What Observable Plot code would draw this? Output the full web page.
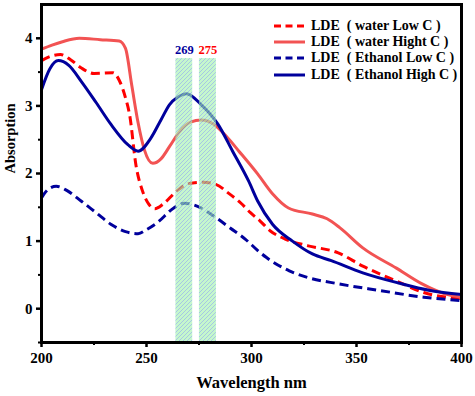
<!DOCTYPE html>
<html><head><meta charset="utf-8">
<script src="https://cdn.jsdelivr.net/npm/d3@7"></script>
<script src="https://cdn.jsdelivr.net/npm/@observablehq/plot@0.6"></script>
<style>
body{margin:0;background:#fff;}
#wrap{position:relative;width:475px;height:396px;}
#legend{position:absolute;left:274px;top:17.5px;font:bold 14px "Liberation Serif",serif;color:#000;}
.row{display:flex;align-items:center;height:16.3px;white-space:pre;}
.row svg{margin-right:6px;}
</style></head><body><div id="wrap"></div>
<script>
// ---- data ----
const seriesNames = ["LDE  ( water Low C )", "LDE  ( water Hight C )", "LDE  ( Ethanol Low C )", "LDE  ( Ethanol High C )"];

const wlWaterLow = [200,204,209,214,219,225,234,237,240,242,245,248,251,254,258,264,270,277,283,289,295,299.5,304,309,316,327,341,353,369,382,400];
const abWaterLow = [3.67,3.73,3.76,3.68,3.56,3.48,3.49,3.38,3.12,2.86,2.12,1.75,1.55,1.48,1.55,1.73,1.85,1.87,1.84,1.71,1.56,1.42,1.30,1.15,1.03,0.93,0.83,0.63,0.41,0.24,0.15];

const wlWaterHigh = [200,205,210,218,228,237,240,243,246,249,253,257,261,266,271,276,282,288,294,303,310,317.6,329,336,342,353,369,381,392,400];
const abWaterHigh = [3.84,3.90,3.95,4.0,3.98,3.96,3.85,3.3,2.75,2.35,2.15,2.22,2.40,2.63,2.76,2.79,2.73,2.55,2.33,1.99,1.70,1.49,1.40,1.33,1.2,0.9,0.6,0.37,0.22,0.17];

const wlEthLow = [200,203,207,212,219,226,233,240,246,250,255,263,268,276,282,290,297,303,307,318,327,341,361,382,400];
const abEthLow = [1.64,1.76,1.81,1.75,1.59,1.42,1.25,1.14,1.11,1.17,1.27,1.49,1.56,1.49,1.37,1.19,1.03,0.86,0.76,0.56,0.46,0.37,0.27,0.17,0.12];

const wlEthHigh = [200,204,208,213,219,226,233,241,246,252,257,261,265,269,276,284,291,298.6,303,310,319.5,329,338,353,370,385,400];
const abEthHigh = [3.24,3.55,3.67,3.6,3.36,3.05,2.73,2.43,2.33,2.52,2.8,3.02,3.13,3.18,3.02,2.73,2.33,1.89,1.59,1.25,1.0,0.81,0.71,0.53,0.38,0.27,0.21];

const bandLabels = ["269", "275"];
const bandStart = [264, 275.2];
const bandEnd = [272, 283.3];
const bandTop = 3.7;
const bandBottom = -0.5;

const xTicks = [200, 250, 300, 350, 400];
const xMinor = [225, 275, 325, 375];
const yTicks = [0, 1, 2, 3, 4];
const yMinor = [-0.5, 0.5, 1.5, 2.5, 3.5];

// ---- styles ----
const colors = ["#ff0000", "#f25353", "#00009c", "#00009c"];
const dashes = ["9,5", null, "9,5", null];
const labelColors = ["#00009c", "#ff0000"];

const toRows = (wl, ab) => wl.map((w, i) => ({w, a: ab[i]}));
const series = [toRows(wlWaterLow, abWaterLow), toRows(wlWaterHigh, abWaterHigh), toRows(wlEthLow, abEthLow), toRows(wlEthHigh, abEthHigh)];
const bands = bandLabels.map((l, i) => ({label: l, x1: bandStart[i], x2: bandEnd[i], color: labelColors[i]}));

const defs = () => {
  const d = d3.create("svg:defs");
  const p = d.append("pattern").attr("id", "hatch").attr("patternUnits", "userSpaceOnUse")
    .attr("width", 4).attr("height", 4);
  p.append("rect").attr("width", 4).attr("height", 4).attr("fill", "#a6f3b2");
  p.append("path").attr("d", "M-1,1 l2,-2 M0,4 l4,-4 M3,5 l2,-2").attr("stroke", "#6a98dc").attr("stroke-width", 0.8);
  return d.node();
};

const lineMarks = series.map((data, i) => Plot.line(data, {
  x: "w", y: "a", stroke: colors[i], strokeWidth: 3, strokeDasharray: dashes[i] || undefined,
  curve: "monotone-x", strokeLinecap: "butt"
}));

const chart = Plot.plot({
  width: 475, height: 396,
  marginLeft: 41, marginRight: 14, marginTop: 4, marginBottom: 54,
  style: {fontFamily: "'Liberation Serif', serif", fontWeight: "bold", fontSize: "14px", color: "#000", background: "#fff"},
  x: {domain: [200, 400]},
  y: {domain: [-0.5, 4.5]},
  marks: [
    defs,
    ...lineMarks,
    Plot.rect(bands, {x1: "x1", x2: "x2", y1: () => bandBottom, y2: () => bandTop, fill: "url(#hatch)", fillOpacity: 0.65}),
    Plot.text(bands, {x: d => (d.x1 + d.x2) / 2, y: () => bandTop, text: "label", fill: "color", dy: -9, fontSize: 12.5, fontWeight: "bold"}),
    Plot.frame({stroke: "#000", strokeWidth: 3}),
    Plot.axisX(xTicks, {tickSize: 5, strokeWidth: 2.5, tickPadding: 5, fontSize: 15, tickFormat: d3.format("d"), label: null}),
    Plot.axisX(xMinor, {tickSize: 3, strokeWidth: 2, tickFormat: () => "", label: null}),
    Plot.axisY(yTicks, {tickSize: 5, strokeWidth: 2.5, tickPadding: 4, fontSize: 15, tickFormat: d3.format("d"), label: null}),
    Plot.axisY(yMinor, {tickSize: 3, strokeWidth: 2, tickFormat: () => "", label: null}),
    Plot.text(["Wavelength nm"], {frameAnchor: "bottom", dy: 40, fontSize: 16.5, fontWeight: "bold", lineAnchor: "middle"}),
    Plot.text(["Absorption"], {frameAnchor: "left", dx: -31, rotate: -90, fontSize: 14.5, fontWeight: "bold"})
  ]
});

const wrap = document.getElementById("wrap");
wrap.appendChild(chart);

const legend = document.createElement("div");
legend.id = "legend";
seriesNames.forEach((name, i) => {
  const row = document.createElement("div");
  row.className = "row";
  row.innerHTML = `<svg width="31" height="6"><line x1="0" y1="3" x2="31" y2="3" stroke="${colors[i]}" stroke-width="3" ${dashes[i] ? `stroke-dasharray="7,4.5"` : ""}/></svg>`;
  const span = document.createElement("span");
  span.textContent = name;
  row.appendChild(span);
  legend.appendChild(row);
});
wrap.appendChild(legend);
</script>
</body></html>
